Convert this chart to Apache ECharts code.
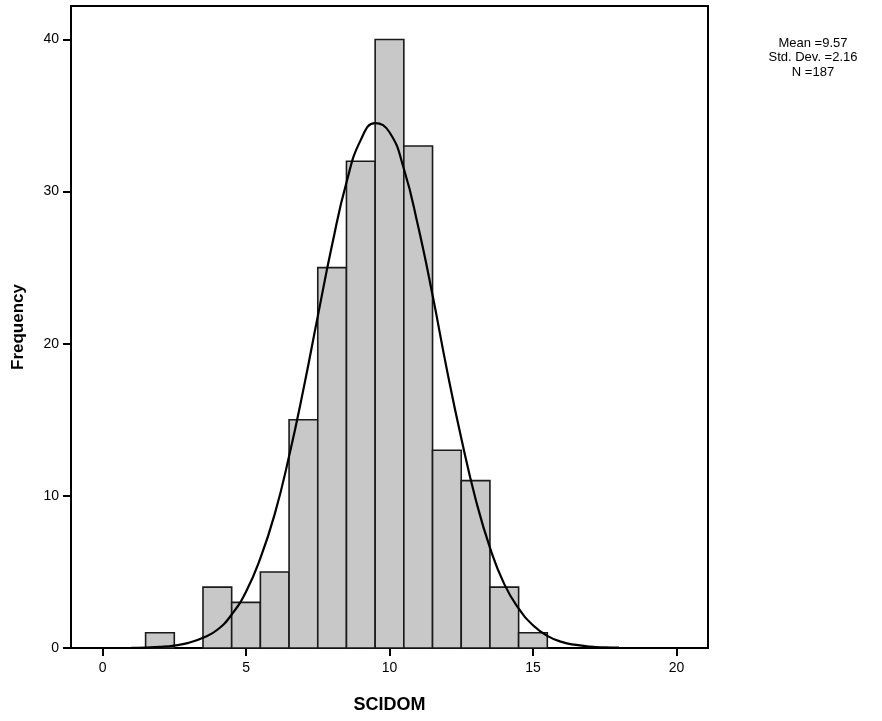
<!DOCTYPE html>
<html>
<head>
<meta charset="utf-8">
<script src="https://cdn.jsdelivr.net/npm/echarts@6/dist/echarts.min.js"></script>
<style>
  html, body { margin: 0; padding: 0; background: #fff; }
  #chart { width: 882px; height: 721px; }
</style>
</head>
<body>
<div id="chart"></div>
<script>
// histogram bins (centre of bin, width 1)
var binCenters = [2, 4, 5, 6, 7, 8, 9, 10, 11, 12, 13, 14, 15];
var binCounts  = [1, 4, 3, 5, 15, 25, 32, 40, 33, 13, 11, 4, 1];

// normal curve, every half unit
var curveX = [1, 1.5, 2, 2.5, 3, 3.5, 4, 4.5, 5, 5.5, 6, 6.5, 7, 7.5, 8, 8.5, 9, 9.5,
              10, 10.5, 11, 11.5, 12, 12.5, 13, 13.5, 14, 14.5, 15, 15.5, 16, 16.5, 17, 17.5, 18];
var curveY = [0.01, 0.03, 0.07, 0.16, 0.34, 0.67, 1.2, 2.2, 3.7, 5.9, 8.8, 12.6, 17.0, 21.8, 26.5, 30.6, 33.4, 34.5,
              33.9, 31.5, 27.7, 23.2, 18.3, 13.8, 9.8, 6.6, 4.2, 2.6, 1.5, 0.8, 0.4, 0.2, 0.09, 0.04, 0.02];

var xTicks = [0, 5, 10, 15, 20];
var yTicks = [0, 10, 20, 30, 40];

var statsLines = ['Mean =9.57', 'Std. Dev. =2.16', 'N =187'];

var chart = echarts.init(document.getElementById('chart'));

var barData = binCenters.map(function (c, i) { return [c, binCounts[i]]; });
var curveData = curveX.map(function (x, i) { return [x, curveY[i]]; });

var font = 'Liberation Sans, Arial, sans-serif';

var option = {
  animation: false,
  grid: {
    left: 71, right: 174, top: 6, bottom: 73,
    show: true,
    borderColor: '#000',
    borderWidth: 2,
    backgroundColor: 'transparent'
  },
  xAxis: {
    type: 'value',
    min: -1.1,
    max: 21.1,
    name: 'SCIDOM',
    nameLocation: 'middle',
    nameGap: 48,
    nameTextStyle: { fontFamily: font, fontSize: 18, fontWeight: 'bold', color: '#000' },
    splitLine: { show: false },
    axisLine: { show: true, onZero: false, lineStyle: { color: '#000', width: 2 } },
    axisTick: { show: true, length: 8, lineStyle: { color: '#000', width: 2 }, customValues: xTicks },
    axisLabel: { fontFamily: font, fontSize: 14, color: '#000', margin: 13, customValues: xTicks }
  },
  yAxis: {
    type: 'value',
    min: 0,
    max: 42.2,
    name: 'Frequency',
    nameLocation: 'middle',
    nameGap: 44,
    nameTextStyle: { fontFamily: font, fontSize: 17, fontWeight: 'bold', color: '#000' },
    splitLine: { show: false },
    axisLine: { show: true, onZero: false, lineStyle: { color: '#000', width: 2 } },
    axisTick: { show: true, length: 8, lineStyle: { color: '#000', width: 2 }, customValues: yTicks },
    axisLabel: { fontFamily: font, fontSize: 14, color: '#000', margin: 12, customValues: yTicks }
  },
  graphic: [{
    type: 'text',
    left: 813 - 60,
    top: 36,
    style: {
      text: statsLines.join('\n'),
      width: 120,
      align: 'center',
      textAlign: 'center',
      x: 60,
      font: '13px ' + font,
      lineHeight: 14.5,
      fill: '#000'
    }
  }],
  series: [
    {
      type: 'custom',
      data: barData,
      renderItem: function (params, api) {
        var c = api.value(0);
        var v = api.value(1);
        var p0 = api.coord([c - 0.5, v]);
        var p1 = api.coord([c + 0.5, 0]);
        return {
          type: 'rect',
          shape: { x: p0[0], y: p0[1], width: p1[0] - p0[0], height: p1[1] - p0[1] },
          style: { fill: '#c8c8c8', stroke: '#1a1a1a', lineWidth: 1.6 }
        };
      },
      z: 2
    },
    {
      type: 'line',
      data: curveData,
      smooth: 0.5,
      showSymbol: false,
      symbol: 'none',
      lineStyle: { color: '#000', width: 2.2 },
      z: 3
    }
  ]
};

chart.setOption(option);
</script>
</body>
</html>
